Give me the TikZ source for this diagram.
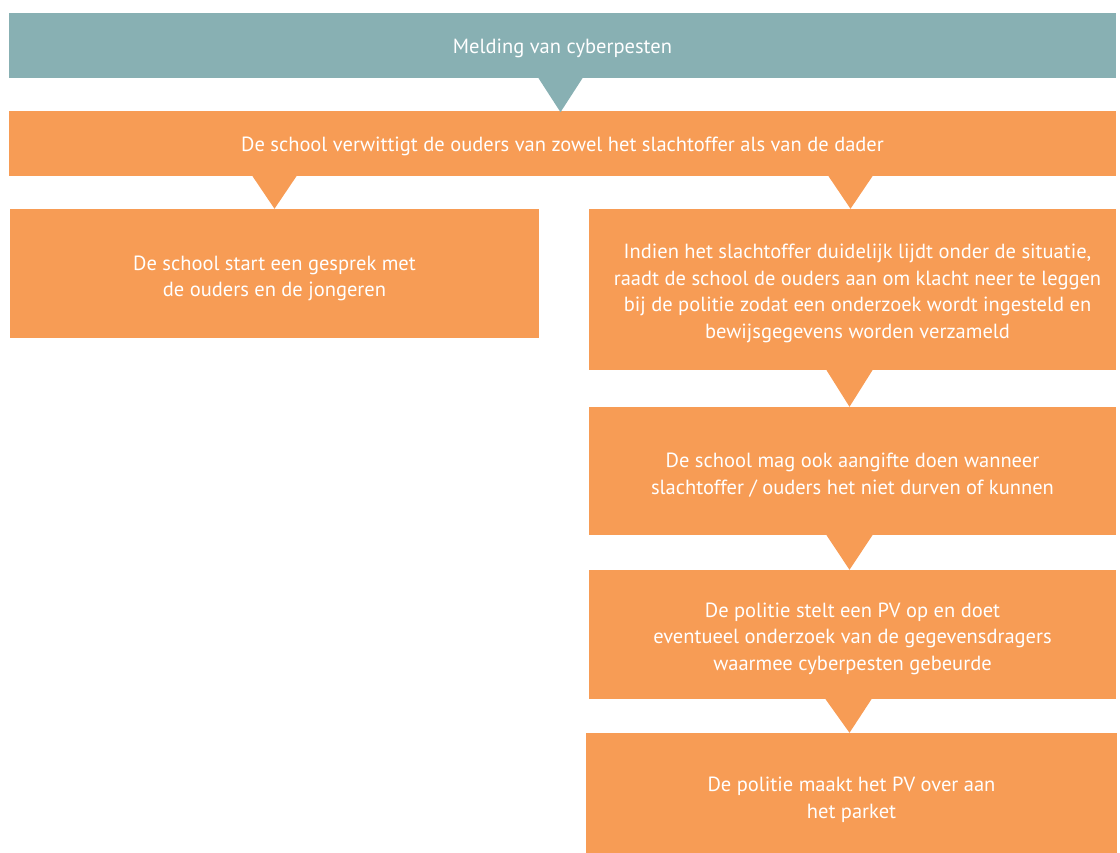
\documentclass[tikz,border=0pt]{standalone}
\usepackage{fontspec}
\setmainfont{PT Sans}
\usetikzlibrary{calc}
\definecolor{tealbar}{RGB}{136,176,179}
\definecolor{orangebox}{RGB}{247,156,85}
\tikzset{
  box/.style={fill=orangebox, draw=none, inner sep=0pt},
  headbox/.style={box, fill=tealbar},
  boxtext/.style={inner sep=0pt, text=white, align=center,
    font=\fontsize{20.5}{26.5}\selectfont},
  arrowtri/.style={fill=orangebox, draw=none},
  headtri/.style={fill=tealbar, draw=none}
}
\begin{document}
\begin{tikzpicture}[x=1pt,y=1pt]
\useasboundingbox (0,0) rectangle (1120,853);
% boxes
\node[headbox, minimum width=1107pt, minimum height=65pt] (top) at (562.5,807.5) {};
\node[box, minimum width=1107pt, minimum height=65pt] (school) at (562.5,709.5) {};
\node[box, minimum width=529pt, minimum height=129pt] (left) at (274.5,579.5) {};
\node[box, minimum width=527pt, minimum height=161pt] (r1) at (852.5,563.5) {};
\node[box, minimum width=527pt, minimum height=128pt] (r2) at (852.5,382) {};
\node[box, minimum width=527pt, minimum height=129pt] (r3) at (852.5,218.5) {};
\node[box, minimum width=531pt, minimum height=120pt] (r4) at (851.5,60) {};
% texts
\node[boxtext] (toptext) at ($(top.center)+(0,-3)$) {Melding van cyberpesten};
\node[boxtext] (schooltext) at ($(school.center)+(0,-3)$) {De school verwittigt de ouders van zowel het slachtoffer als van de dader};
\node[boxtext] (lefttext) at ($(left.center)+(0,-5)$) {De school start een gesprek met\\de ouders en de jongeren};
\node[boxtext] (r1text) at ($(r1.center)+(5,-4)$) {Indien het slachtoffer duidelijk lijdt onder de situatie,\\raadt de school de ouders aan om klacht neer te leggen\\bij de politie zodat een onderzoek wordt ingesteld en\\bewijsgegevens worden verzameld};
\node[boxtext] (r2text) at ($(r2.center)+(0,-4)$) {De school mag ook aangifte doen wanneer\\slachtoffer / ouders het niet durven of kunnen};
\node[boxtext] (r3text) at ($(r3.center)+(0,-4)$) {De politie stelt een PV op en doet\\eventueel onderzoek van de gegevensdragers\\waarmee cyberpesten gebeurde};
\node[boxtext] (r4text) at ($(r4.center)+(0,-7)$) {De politie maakt het PV over aan\\het parket};
% triangles
\fill[headtri] ($(top.south)+(-24,0)$) -- ($(top.south)+(20,0)$) -- ($(top.south)+(-2,-34)$) -- cycle;
\fill[arrowtri] ($(left.north |- school.south)+(-22,0)$) -- ($(left.north |- school.south)+(22,0)$) -- (left.north) -- cycle;
\fill[arrowtri] ($(r1.north |- school.south)+(-24,0)$) -- ($(r1.north |- school.south)+(20,0)$) -- ($(r1.north)+(-2,0)$) -- cycle;
\fill[arrowtri] ($(r2.north |- r1.south)+(-26,0)$) -- ($(r2.north |- r1.south)+(20,0)$) -- ($(r2.north)+(-3,0)$) -- cycle;
\fill[arrowtri] ($(r3.north |- r2.south)+(-26,0)$) -- ($(r3.north |- r2.south)+(20,0)$) -- ($(r3.north)+(-3,0)$) -- cycle;
\fill[arrowtri] ($(r4.north |- r3.south)+(-26,0)$) -- ($(r4.north |- r3.south)+(20,0)$) -- ($(r4.north)+(-2,0)$) -- cycle;
\end{tikzpicture}
\end{document}
